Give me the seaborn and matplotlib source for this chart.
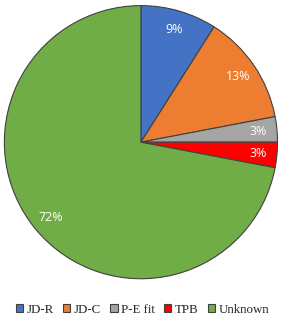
import matplotlib
matplotlib.use('Agg')
import matplotlib.pyplot as plt
import seaborn as sns
from matplotlib.patches import Patch

labels = ['JD-R', 'JD-C', 'P-E fit', 'TPB', 'Unknown']
shares = [9, 13, 3, 3, 72]
colors = ['#4472C4', '#ED7D31', '#A5A5A5', '#FF0000', '#70AD47']

sns.set_style('white')
plt.rcParams['font.family'] = ['Liberation Serif', 'DejaVu Serif']

fig = plt.figure(figsize=(2.85, 3.25), dpi=100)
ax = fig.add_axes([0.0105, 0.138, 0.968, 0.849])
pal = sns.color_palette(colors)

wedges, texts, autotexts = ax.pie(
    shares, colors=pal, startangle=90, counterclock=False,
    autopct='%d%%', pctdistance=0.86,
    wedgeprops=dict(edgecolor='#404040', linewidth=0.8),
    textprops=dict(color='white', fontsize=9, family=['Open Sans', 'DejaVu Sans']))
ax.set_xlim(-1.01, 1.01)
ax.set_ylim(-1.01, 1.01)
ax.set_aspect('equal')

handles = [Patch(facecolor=c, edgecolor='#404040', linewidth=0.8) for c in colors]
fig.legend(handles, labels, loc='center', bbox_to_anchor=(0.5, 0.047), ncol=5,
           frameon=False, fontsize=9.3, handlelength=0.55, handleheight=0.55,
           handletextpad=0.25, columnspacing=0.75, borderaxespad=0)

fig.savefig('out.png', dpi=100)
